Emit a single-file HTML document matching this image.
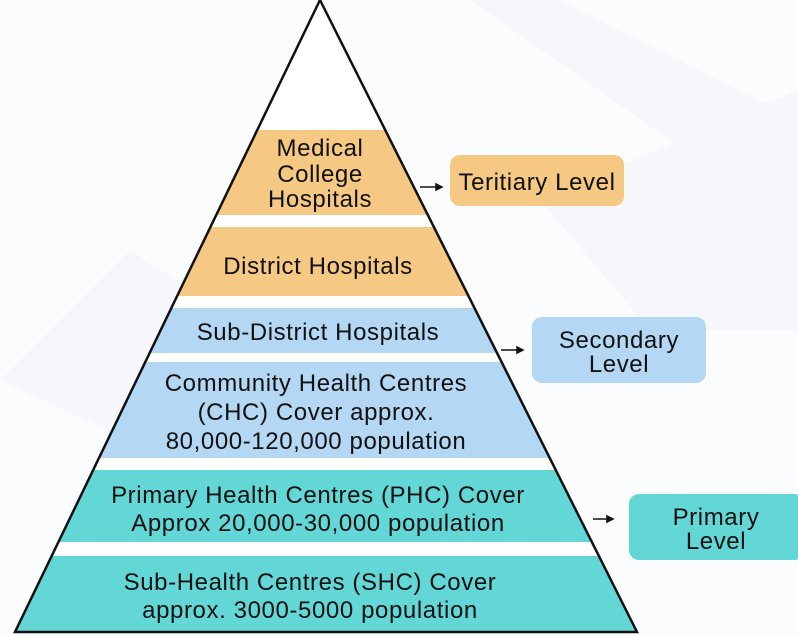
<!DOCTYPE html>
<html><head><style>
html,body{margin:0;padding:0;background:#fff;}
svg{display:block;}
text{font-family:"Liberation Sans",sans-serif;font-size:24px;letter-spacing:0.6px;fill:#111;text-anchor:middle;}
</style></head><body>
<svg width="798" height="636" viewBox="0 0 798 636" xmlns="http://www.w3.org/2000/svg">
<rect width="798" height="636" fill="#fbfcfd"/>
<polygon points="0,380 130,250 420,440 300,520" fill="#f5f7fa"/>
<polygon points="470,0 560,0 798,120 798,230" fill="#f5f7fa"/>
<polygon points="540,200 798,90 798,330 650,330" fill="#f5f7fa"/>
<defs><clipPath id="tri"><polygon points="320,0 15,632 637,632"/></clipPath></defs>
<g clip-path="url(#tri)">
<rect x="0" y="0" width="798" height="636" fill="#ffffff"/>
<rect x="0" y="130" width="798" height="85" fill="#f5c983"/>
<rect x="0" y="227" width="798" height="69" fill="#f5c983"/>
<rect x="0" y="308" width="798" height="45" fill="#b4d8f4"/>
<rect x="0" y="362" width="798" height="96" fill="#b4d8f4"/>
<rect x="0" y="470" width="798" height="72" fill="#63d6d6"/>
<rect x="0" y="556" width="798" height="80" fill="#63d6d6"/>
</g>
<polygon points="320,0 15,632 637,632" fill="none" stroke="#111" stroke-width="2.5"/>
<text x="320" y="156">Medical</text>
<text x="320" y="182">College</text>
<text x="320" y="207">Hospitals</text>
<text x="318" y="274">District Hospitals</text>
<text x="318" y="340">Sub-District Hospitals</text>
<text x="316" y="391">Community Health Centres</text>
<text x="316" y="420">(CHC) Cover approx.</text>
<text x="316" y="449">80,000-120,000 population</text>
<text x="318" y="503">Primary Health Centres (PHC) Cover</text>
<text x="318" y="531">Approx 20,000-30,000 population</text>
<text x="310" y="590">Sub-Health Centres (SHC) Cover</text>
<text x="310" y="618">approx. 3000-5000 population</text>
<rect x="450" y="155" width="174" height="51" rx="10" fill="#f5c983"/>
<text x="537" y="190">Teritiary Level</text>
<rect x="532" y="317" width="174" height="66" rx="10" fill="#b4d8f4"/>
<text x="619" y="348">Secondary</text>
<text x="619" y="372">Level</text>
<rect x="629" y="494" width="175" height="66" rx="10" fill="#63d6d6"/>
<text x="716" y="525">Primary</text>
<text x="716" y="549">Level</text>
<g stroke="#111" stroke-width="1.5" fill="#111">
<line x1="420" y1="187" x2="438" y2="187"/><polygon points="442,187 436,184 436,190"/>
<line x1="501" y1="350" x2="519" y2="350"/><polygon points="523,350 517,347 517,353"/>
<line x1="593" y1="519" x2="609" y2="519"/><polygon points="613,519 607,516 607,522"/>
</g>
</svg>
</body></html>
